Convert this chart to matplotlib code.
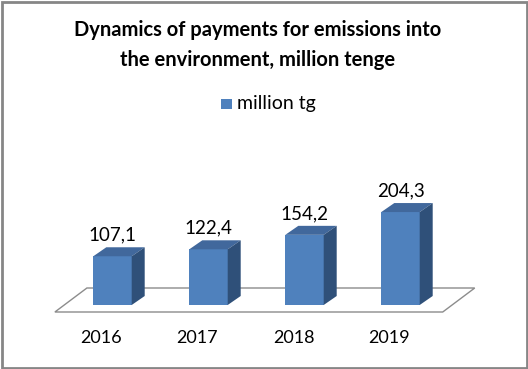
import matplotlib
matplotlib.use("Agg")
import matplotlib.pyplot as plt
from matplotlib.patches import Polygon, Rectangle

years = ["2016", "2017", "2018", "2019"]
values = [107.1, 122.4, 154.2, 204.3]
value_labels = ["107,1", "122,4", "154,2", "204,3"]
series_name = "million tg"
title_lines = ["Dynamics of payments for emissions into", "the environment, million tenge"]

FRONT = "#4F81BD"
TOP = "#41689C"
SIDE = "#2F5079"

W, H = 528, 369
fig = plt.figure(figsize=(W / 100, H / 100), dpi=100)
fig.patch.set_facecolor("white")

# axes: 1 category unit = 96 px, 1 value unit = 0.455 px
x0, x1 = -0.75, 3.75
y0, y1 = 0, 220
left_px = 112.5 - 0.75 * 96
bottom_px = H - 305
ax = fig.add_axes([left_px / W, bottom_px / H, (x1 - x0) * 96 / W, (y1 - y0) * 0.455 / H])
ax.set_xlim(x0, x1)
ax.set_ylim(y0, y1)
ax.axis("off")

bw = 0.40
ddx = 13 / 96        # depth offset in category units
ddy = 9 / 0.455      # depth offset in value units

# floor
f_front, f_back = -7 / 0.455, 17 / 0.455
fl = -0.6
fr = 3.44
skew = 32 / 96
floor = Polygon([(fl, f_front), (fr, f_front), (fr + skew, f_back), (fl + skew, f_back)],
                closed=True, facecolor="white", edgecolor="#8C8C8C", linewidth=1.0,
                clip_on=False, zorder=1)
ax.add_patch(floor)

xs = list(range(len(years)))
bars = ax.bar(xs, values, width=bw, color=FRONT, edgecolor="none", zorder=3, clip_on=False)
for x, v, lab in zip(xs, values, value_labels):
    l, r = x - bw / 2, x + bw / 2
    ax.add_patch(Polygon([(l, v), (r, v), (r + ddx, v + ddy), (l + ddx, v + ddy)],
                         closed=True, facecolor=TOP, edgecolor="none", zorder=3, clip_on=False))
    ax.add_patch(Polygon([(r, 0), (r + ddx, ddy), (r + ddx, v + ddy), (r, v)],
                         closed=True, facecolor=SIDE, edgecolor="none", zorder=3, clip_on=False))
    ax.text(x, v + 21 / 0.455, lab, ha="center", va="center", fontsize=13.5,
            family="Lato", color="black", clip_on=False)
    ax.text(x - 11 / 96, -33 / 0.455, years[x], ha="center", va="center", fontsize=13,
            family="Lato", color="black", clip_on=False)

# title
fig.text(258 / W, 1 - 30 / H, title_lines[0], ha="center", va="center",
         fontsize=14.5, fontweight="bold", family="Lato")
fig.text(258 / W, 1 - 60 / H, title_lines[1], ha="center", va="center",
         fontsize=14.5, fontweight="bold", family="Lato")

# legend
fig.patches.append(Rectangle((221 / W, 1 - 109 / H), 11 / W, 10 / H, transform=fig.transFigure,
                             facecolor=FRONT, edgecolor="none"))
fig.text(237 / W, 1 - 104 / H, series_name, ha="left", va="center", fontsize=14, family="Lato")

# border
fig.patches.append(Rectangle((1.5 / W, 1.5 / H), (W - 3) / W, (H - 3) / H, transform=fig.transFigure,
                             facecolor="none", edgecolor="#868686", linewidth=2))

fig.savefig("out.png", dpi=100)
